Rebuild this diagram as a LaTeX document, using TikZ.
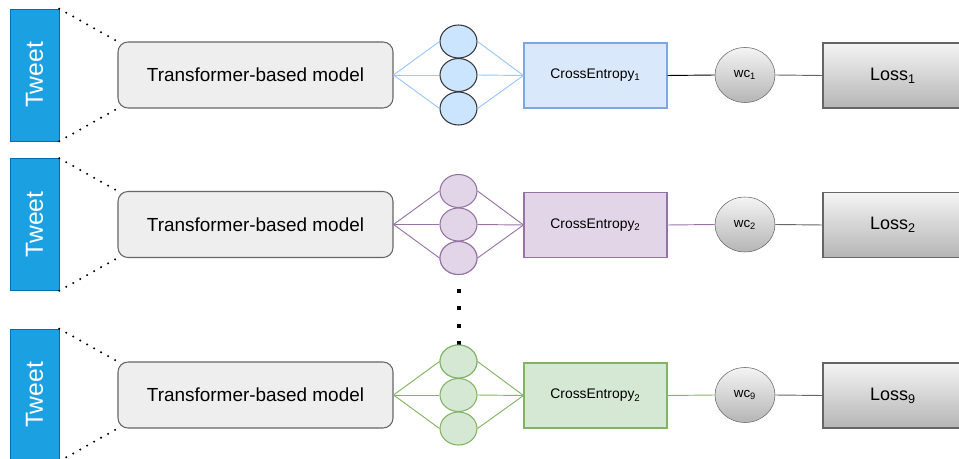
\documentclass[tikz,border=0pt]{standalone}
\usepackage{fontspec}
\setmainfont{Liberation Sans}
\usetikzlibrary{shapes.geometric}
\newdimen\px \px=0.75pt
\definecolor{tweetfill}{HTML}{1BA1E2}
\definecolor{tweetline}{HTML}{006EAF}
\definecolor{modelfill}{HTML}{EEEEEE}
\definecolor{greyline}{HTML}{666666}
\definecolor{blueedge}{HTML}{99C7FF}
\definecolor{bluefill}{HTML}{CCE5FF}
\definecolor{bluebox}{HTML}{DAE8FC}
\definecolor{blueboxline}{HTML}{7EA6E0}
\definecolor{purplefill}{HTML}{E1D5E7}
\definecolor{purpleline}{HTML}{9673A6}
\definecolor{greenfill}{HTML}{D5E8D4}
\definecolor{greenline}{HTML}{82B366}
\definecolor{darkline}{HTML}{36393D}
\definecolor{shadetop}{HTML}{F4F4F4}
\definecolor{shadebot}{HTML}{B5B5B5}
\tikzset{
  tweet/.style={draw=tweetline, fill=tweetfill, minimum width=49\px, minimum height=132\px,
    inner sep=0pt, text=white, font=\fontsize{18.5}{20}\selectfont},
  model/.style={draw=greyline, fill=modelfill, rounded corners=10\px, minimum width=275\px,
    minimum height=66\px, inner sep=0pt, font=\fontsize{14.2}{16}\selectfont, line width=0.8pt},
  neuron/.style={ellipse, minimum width=37\px, minimum height=33\px, inner sep=0pt, line width=0.8pt},
  cebox/.style={minimum width=143\px, minimum height=65\px, inner sep=0pt, line width=0.8pt},
  weight/.style={ellipse, draw=greyline, top color=shadetop, bottom color=shadebot,
    minimum width=60\px, minimum height=55\px, inner sep=0pt, font=\fontsize{10}{12}\selectfont},
  lossbox/.style={draw=greyline, top color=shadetop, bottom color=shadebot, line width=0.8pt,
    minimum width=140\px, minimum height=65\px, inner sep=0pt, font=\fontsize{13.5}{15}\selectfont},
  tweetlink/.style={line width=1.7pt, line cap=round, dash pattern=on 0pt off 8\px},
  edge/.style={line width=0.7pt},
  celabel/.style={font=\fontsize{10.4}{12}\selectfont},
}
\begin{document}
\begin{tikzpicture}[x=\px, y=-\px]
\useasboundingbox (0,0) rectangle (959,459);

% ---- one row per task head ----
\foreach \r/\yc/\nf/\nl/\ef/\cf/\cl/\il/\sub in {
  1/75/bluefill/darkline/blueedge/bluebox/blueboxline/black/1,
  2/224.5/purplefill/purpleline/purpleline/purplefill/purpleline/purpleline/2,
  3/395/greenfill/greenline/greenline/greenfill/greenline/greenline/9}{
  \node[tweet] (tw\r) at (34.5,\yc) {\rotatebox{90}{Tweet}};
  \node[model] (tm\r) at (255.5,\yc) {Transformer-based model};
  \draw[tweetlink] (tw\r.north east) -- (tm\r.north west);
  \draw[tweetlink] (tw\r.south east) -- (tm\r.south west);
  \node[cebox, draw=\cl, fill=\cf] (ce\r) at (595.5,\yc+0.5) {};
  \node[weight] (wc\r) at (745,\yc) {wc\textsubscript{\sub}};
  \node[lossbox] (ls\r) at (893,\yc+0.5) {Loss\textsubscript{\sub}};
  \foreach \k/\dy in {a/-33.5, b/0, c/33.5}{
    \node[neuron, draw=\nl, fill=\nf] (n\r\k) at (458.5,\yc+\dy) {};
    \draw[edge, draw=\ef] (tm\r.east) -- (n\r\k.west);
    \draw[edge, draw=\ef] (n\r\k.east) -- (ce\r.west);
  }
  \draw[edge, draw=\il] (ce\r.east) -- (wc\r.west);
  \draw[edge, draw=greyline] (wc\r.east) -- (ls\r.west);
}

% CrossEntropy labels
\node[celabel] at (ce1) {CrossEntropy\textsubscript{1}};
\node[celabel] at (ce2) {CrossEntropy\textsubscript{2}};
\node[celabel] at (ce3) {CrossEntropy\textsubscript{2}};

% ellipsis between the second and the last head
\draw[line width=4\px, dash pattern=on 4\px off 13.5\px]
  ([yshift=4\px]n2c.south) -- ([yshift=-2\px]n3a.north);
\node[neuron, draw=purpleline, fill=purplefill] at (n2c) {};
\node[neuron, draw=greenline, fill=greenfill] at (n3a) {};
\end{tikzpicture}
\end{document}
